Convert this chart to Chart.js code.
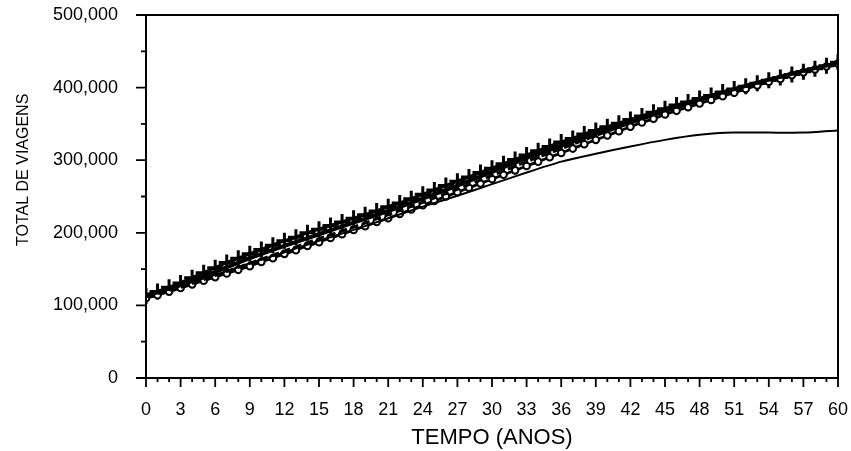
<!DOCTYPE html>
<html lang="pt">
<head>
    <meta charset="UTF-8">
    <title>Total de viagens</title>
    <script src="https://cdn.jsdelivr.net/npm/chart.js"></script>
    <style>
        body {
            margin: 0;
            padding: 0;
            background-color: #fff;
        }

        #wrap {
            width: 851px;
            height: 451px;
        }
    </style>
</head>
<body>
    <div id="wrap"><canvas id="viagensChart" width="851" height="451"></canvas></div>
    <script>
        // Anos (eixo x)
        const yearsAll = [0,1,2,3,4,5,6,7,8,9,10,11,12,13,14,15,16,17,18,19,20,21,22,23,24,25,26,27,28,29,30,
                          31,32,33,34,35,36,37,38,39,40,41,42,43,44,45,46,47,48,49,50,51,52,53,54,55,56,57,58,59,60];
        const years3 = [0,3,6,9,12,15,18,21,24,27,30,33,36,39,42,45,48,51,54,57,60];

        // Série com marcadores "+" (milhares de viagens)
        const cruzSeries = [113,119,125,131,138,145,152,159,165,171,177,183,189,194,200,205,210,215,220,225,230,
                            236,241,247,253,259,265,271,277,283,289,295,301,307,313,319,325,330,336,341,346,
                            351,356,361,366,371,376,380,385,389,394,398,402,406,410,414,418,422,426,430,435];
        // Série com marcadores circulares
        const circSeries = [110,114,119,124,129,134,139,144,149,154,160,165,171,176,182,187,193,198,204,209,215,
                            220,226,232,238,244,250,256,262,268,274,280,286,292,298,304,310,316,322,328,334,
                            340,346,352,357,363,368,373,378,383,388,393,398,403,408,412,417,421,425,429,433];
        // Séries sem marcadores (a cada 3 anos)
        const grossaSeries = [114,128,146,165,182,198,214,230,247,265,284,303,320,337,353,369,384,398,411,423,434];
        const tracoSeries  = [112,125,141,158,175,192,208,225,242,260,279,298,316,334,351,367,382,397,410,422,432];
        const simplesSeries = [112,127,142,158,173,189,204,220,236,251,267,283,298,309,319,328,335,338,338,338,341];

        const yLabels = [0, 100000, 200000, 300000, 400000, 500000];

        function toPoints(xs, ys) {
            return xs.map((x, i) => ({ x: x, y: ys[i] * 1000 }));
        }

        // Ticks menores e moldura da área do gráfico
        const framePlugin = {
            id: 'frame',
            afterDraw(chart) {
                const ctx = chart.ctx;
                const area = chart.chartArea;
                const xs = chart.scales.x;
                const ys = chart.scales.y;
                ctx.save();
                ctx.strokeStyle = '#000';
                ctx.lineWidth = 2;
                ctx.strokeRect(area.left, area.top, area.right - area.left, area.bottom - area.top);
                ctx.lineWidth = 1.8;
                ctx.beginPath();
                yearsAll.forEach(v => {
                    const px = xs.getPixelForValue(v);
                    const len = v % 3 === 0 ? 9 : 4;
                    ctx.moveTo(px, area.bottom);
                    ctx.lineTo(px, area.bottom + len);
                });
                for (let v = 0; v <= 500000; v += 50000) {
                    const py = ys.getPixelForValue(v);
                    const len = v % 100000 === 0 ? 10 : 5;
                    ctx.moveTo(area.left, py);
                    ctx.lineTo(area.left - len, py);
                }
                ctx.stroke();
                ctx.restore();
            }
        };

        // grade invisível: só serve para afastar os rótulos do eixo
        function hiddenGrid(len) {
            return {
                display: true,
                drawOnChartArea: false,
                drawTicks: true,
                tickLength: len,
                tickColor: 'rgba(0,0,0,0)'
            };
        }

        const ctx = document.getElementById('viagensChart').getContext('2d');
        new Chart(ctx, {
            type: 'line',
            data: {
                datasets: [
                    {
                        label: 'Simples',
                        data: toPoints(years3, simplesSeries),
                        borderColor: '#000',
                        borderWidth: 2,
                        pointRadius: 0,
                        tension: 0.2
                    },
                    {
                        label: 'Tracejada',
                        data: toPoints(years3, tracoSeries),
                        borderColor: '#000',
                        borderWidth: 3,
                        borderDash: [8, 4],
                        pointRadius: 0,
                        tension: 0.2
                    },
                    {
                        label: 'Grossa',
                        data: toPoints(years3, grossaSeries),
                        borderColor: '#000',
                        borderWidth: 4,
                        pointRadius: 0,
                        tension: 0.2
                    },
                    {
                        label: 'Circulos',
                        data: toPoints(yearsAll, circSeries),
                        borderColor: '#000',
                        borderWidth: 2.8,
                        pointStyle: 'circle',
                        pointRadius: 3.3,
                        pointBackgroundColor: '#fff',
                        pointBorderColor: '#000',
                        pointBorderWidth: 2,
                        tension: 0.2
                    },
                    {
                        label: 'Cruzes',
                        data: toPoints(yearsAll, cruzSeries),
                        borderColor: '#000',
                        borderWidth: 3.2,
                        pointStyle: 'cross',
                        pointRadius: 8,
                        pointBorderColor: '#000',
                        pointBorderWidth: 3,
                        tension: 0.2
                    }
                ]
            },
            options: {
                responsive: false,
                animation: false,
                layout: {
                    padding: { top: 15, right: 13, left: 14, bottom: 0 },
                    autoPadding: false
                },
                plugins: {
                    legend: { display: false },
                    tooltip: { enabled: false }
                },
                scales: {
                    x: {
                        type: 'linear',
                        min: 0,
                        max: 60,
                        afterFit(scale) {
                            scale.height = 73;
                        },
                        ticks: {
                            stepSize: 3,
                            autoSkip: false,
                            maxRotation: 0,
                            color: '#000',
                            padding: 0,
                            font: { family: 'Liberation Sans', size: 18 }
                        },
                        grid: hiddenGrid(21),
                        border: { display: false },
                        title: {
                            display: true,
                            text: 'TEMPO (ANOS)',
                            color: '#000',
                            padding: { top: 2, bottom: 0 },
                            font: { family: 'Liberation Sans', size: 22 }
                        }
                    },
                    y: {
                        min: 0,
                        max: 500000,
                        afterFit(scale) {
                            scale.width = 132;
                        },
                        afterBuildTicks(scale) {
                            scale.ticks = yLabels.map(v => ({ value: v }));
                        },
                        ticks: {
                            color: '#000',
                            padding: 0,
                            font: { family: 'Liberation Sans', size: 18 },
                            callback: v => v.toLocaleString('en-US')
                        },
                        grid: hiddenGrid(28),
                        border: { display: false },
                        title: {
                            display: true,
                            // espaços à esquerda sobem o título, como no original
                            text: '            TOTAL DE VIAGENS',
                            color: '#000',
                            padding: { top: 0, bottom: 18 },
                            font: { family: 'Liberation Sans', size: 16 }
                        }
                    }
                }
            },
            plugins: [framePlugin]
        });
    </script>
</body>
</html>
